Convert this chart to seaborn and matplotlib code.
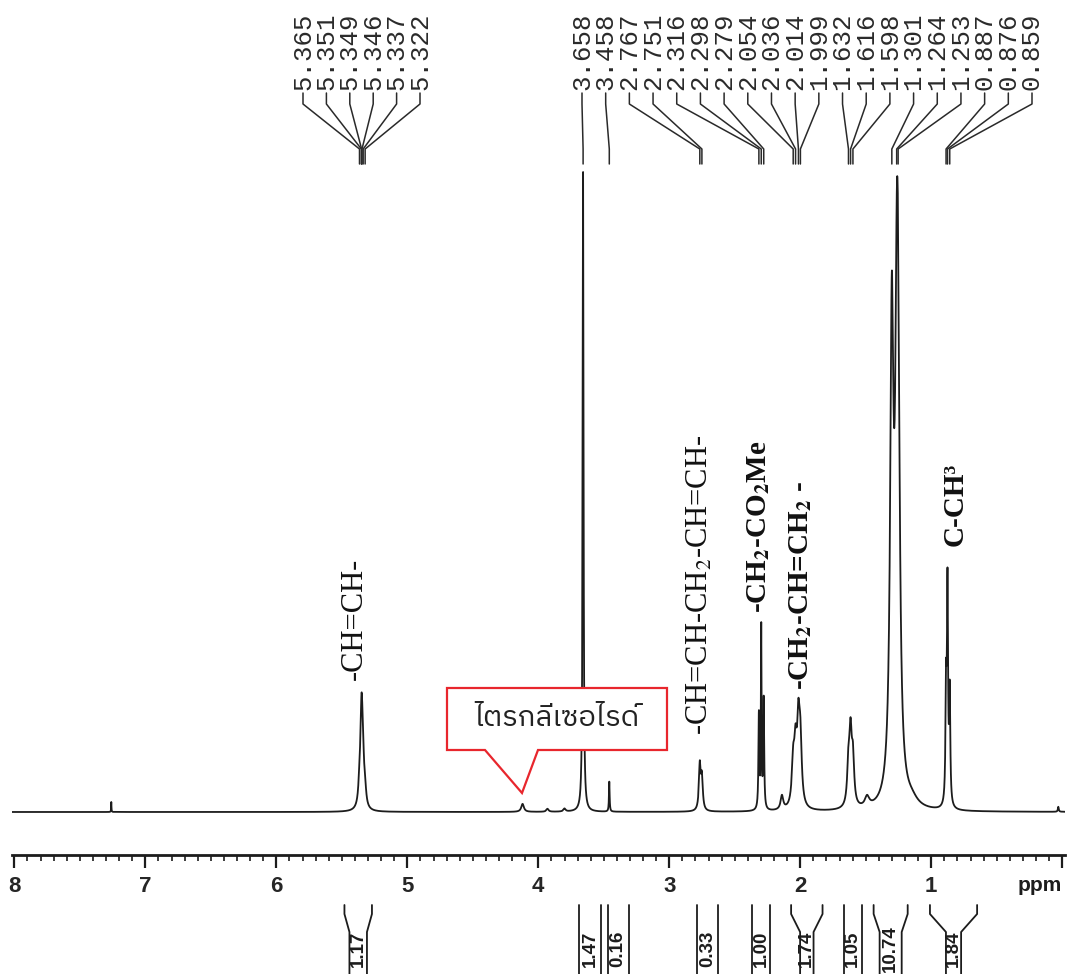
import numpy as np
import pandas as pd
import matplotlib
matplotlib.use("Agg")
import matplotlib.pyplot as plt
import seaborn as sns
from matplotlib.ticker import FixedLocator, MultipleLocator, FixedFormatter
from matplotlib.patches import Polygon
from matplotlib import font_manager as fm

# ---------------- data ----------------
# labelled peaks (ppm), heights (baseline = 0, arbitrary units), half widths (ppm)
peak_ppm = [5.365, 5.351, 5.349, 5.346, 5.337, 5.322,
            3.658, 3.458,
            2.767, 2.751,
            2.316, 2.298, 2.279,
            2.054, 2.036, 2.014, 1.999,
            1.632, 1.616, 1.598,
            1.301, 1.264, 1.253,
            0.887, 0.876, 0.859]
peak_height = [19, 39, 36, 30, 28, 13,
               640, 30,
               45, 32,
               95, 180, 110,
               42, 52, 75, 58,
               40, 67, 45,
               463, 330, 330,
               110, 215, 110]
peak_hwhm = [0.010, 0.010, 0.010, 0.010, 0.010, 0.010,
             0.004, 0.003,
             0.008, 0.008,
             0.004, 0.003, 0.004,
             0.012, 0.012, 0.012, 0.012,
             0.011, 0.011, 0.011,
             0.015, 0.015, 0.015,
             0.005, 0.005, 0.005]

# small unlabelled signals (CHCl3, triglyceride, etc.)
minor_ppm = [7.26, 4.12, 3.93, 3.80, 2.14, 1.49, 1.15, 0.03]
minor_height = [10, 8, 3, 3, 14, 10, 7, 5]
minor_hwhm = [0.0015, 0.012, 0.010, 0.010, 0.012, 0.020, 0.055, 0.004]

# peak-pick labels (two fans)
pick_group_a = [5.365, 5.351, 5.349, 5.346, 5.337, 5.322]
pick_group_b = [3.658, 3.458, 2.767, 2.751, 2.316, 2.298, 2.279, 2.054, 2.036,
                2.014, 1.999, 1.632, 1.616, 1.598, 1.301, 1.264, 1.253,
                0.887, 0.876, 0.859]

# integrals
integral_from = [5.48, 3.69, 3.47, 2.79, 2.37, 2.07, 1.67, 1.44, 1.01]
integral_to = [5.27, 3.52, 3.31, 2.63, 2.23, 1.83, 1.53, 1.18, 0.65]
integral_values = ["1.17", "1.47", "0.16", "0.33", "1.00", "1.74", "1.05", "10.74", "1.84"]

tick_ppm = [8, 7, 6, 5, 4, 3, 2, 1, 0]
tick_labels = ["8", "7", "6", "5", "4", "3", "2", "1", ""]

callout_text = "ไตรกลีเซอไรด์"

# ---------------- styles / layout ----------------
W, H = 1069, 974
AX_L, AX_R, AX_BOTTOM = 12, 1065, 855        # pixels
integral_inset_px = [5, 0, 0, 0, 0, 9, 0, 6, 16]
group_a_px = (303, 420)
group_b_px = (582, 1032)


def find_family(text, prefer=("Thai", "Looped")):
    try:
        from fontTools.ttLib import TTFont
    except Exception:
        return None
    need = {ord(c) for c in text}
    entries = sorted(fm.fontManager.ttflist,
                     key=lambda e: (0 if any(p in e.name for p in prefer) else 1, e.name))
    seen = set()
    for e in entries:
        if e.fname in seen:
            continue
        seen.add(e.fname)
        try:
            tt = TTFont(e.fname, fontNumber=0, lazy=True)
            cmap = tt.getBestCmap() or {}
        except Exception:
            continue
        if need <= set(cmap.keys()):
            return e.name
    return None


sns.set_theme(style="white")
plt.rcParams["font.family"] = ["Liberation Sans", "DejaVu Sans"]
plt.rcParams["mathtext.fontset"] = "stix"

fig = plt.figure(figsize=(W / 100, H / 100), dpi=100)
fig.patch.set_facecolor("white")
ax = fig.add_axes([AX_L / W, (H - AX_BOTTOM) / H, (AX_R - AX_L) / W, AX_BOTTOM / H])
ax.set_facecolor("white")


def fx(px):
    return (px - AX_L) / (AX_R - AX_L)


def fy(py):
    return 1 - py / AX_BOTTOM


# ---------------- spectrum ----------------
grid = np.linspace(-0.03, 8.03, 40001)
intensity = np.zeros_like(grid)
for c, h, w in zip(peak_ppm + minor_ppm, peak_height + minor_height, peak_hwhm + minor_hwhm):
    intensity += h / (1 + ((grid - c) / w) ** 2)
df = pd.DataFrame({"ppm": grid, "intensity": intensity})
sns.lineplot(data=df, x="ppm", y="intensity", ax=ax, color="#1c1c1c",
             linewidth=1.3, estimator=None, sort=False, zorder=2)

ax.set_xlim(8.018, -0.021)
ax.set_ylim(-43, 812)
ax.set_xlabel("")
ax.set_ylabel("")
for s in ["top", "left", "right"]:
    ax.spines[s].set_visible(False)
ax.spines["bottom"].set_linewidth(2.0)
ax.spines["bottom"].set_color("#1c1c1c")
ax.xaxis.set_major_locator(FixedLocator(tick_ppm))
ax.xaxis.set_major_formatter(FixedFormatter(tick_labels))
ax.xaxis.set_minor_locator(MultipleLocator(0.1))
ax.tick_params(axis="x", which="major", direction="out", length=9, width=1.6,
               color="#1c1c1c", labelsize=16, pad=6, bottom=True)
ax.tick_params(axis="x", which="minor", direction="out", length=4.5, width=1.2,
               color="#1c1c1c", bottom=True)
for t in ax.get_xticklabels():
    t.set_fontweight("bold")
ax.set_yticks([])
ax.text(fx(1040), fy(885), "ppm", transform=ax.transAxes, ha="center", va="center",
        fontsize=15, fontweight="bold", color="#1c1c1c", clip_on=False)


def data_to_axfrac(ppm):
    disp = ax.transData.transform((ppm, 0))
    return ax.transAxes.inverted().transform(disp)[0]


# ---------------- peak-pick fans ----------------
def draw_fan(values, px_range):
    xs = np.linspace(fx(px_range[0]), fx(px_range[1]), len(values))
    for xl, v in zip(xs, values):
        xp = data_to_axfrac(v)
        ax.plot([xl, xl, xp, xp], [fy(93), fy(104), fy(149), fy(164)],
                transform=ax.transAxes, color="#2a2a2a", lw=1.1, clip_on=False)
        ax.text(xl, fy(90), f"{v:.3f}", transform=ax.transAxes, rotation=90,
                ha="center", va="bottom", fontsize=18.5, color="#2a2a2a",
                family=["Liberation Mono", "DejaVu Sans Mono"], clip_on=False)


draw_fan(pick_group_a, group_a_px)
draw_fan(pick_group_b, group_b_px)

# ---------------- integrals ----------------
for a, b, val, inset in zip(integral_from, integral_to, integral_values, integral_inset_px):
    xa, xb = data_to_axfrac(a), data_to_axfrac(b)
    d = inset / (AX_R - AX_L)
    ax.plot([xa, xa, xa + d, xa + d], [fy(905), fy(914), fy(932), fy(975)],
            transform=ax.transAxes, color="#1c1c1c", lw=1.3, clip_on=False)
    ax.plot([xb, xb, xb - d, xb - d], [fy(905), fy(914), fy(932), fy(975)],
            transform=ax.transAxes, color="#1c1c1c", lw=1.3, clip_on=False)
    ax.text((xa + xb) / 2, fy(949), val, transform=ax.transAxes, rotation=90,
            ha="center", va="center", fontsize=13.5, fontweight="bold",
            color="#1c1c1c", clip_on=False)

# ---------------- assignment labels ----------------
serif = ["Liberation Serif", "DejaVu Serif"]
ax.text(fx(354), fy(680), "-CH=CH-", transform=ax.transAxes, rotation=90,
        ha="center", va="bottom", fontsize=22, family=serif, color="#111")
ax.text(fx(700), fy(735), "-CH=CH-CH$_2$-CH=CH-", transform=ax.transAxes, rotation=90,
        ha="center", va="bottom", fontsize=22, family=serif, color="#111")
ax.text(fx(759), fy(613), r"-CH$_\mathbf{2}$-CO$_\mathbf{2}$Me", transform=ax.transAxes,
        rotation=90, ha="center", va="bottom", fontsize=21, family=serif,
        fontweight="bold", color="#111")
ax.text(fx(801), fy(690), r"-CH$_\mathbf{2}$-CH=CH$_\mathbf{2}$ -", transform=ax.transAxes,
        rotation=90, ha="center", va="bottom", fontsize=21, family=serif,
        fontweight="bold", color="#111")
ax.text(fx(955), fy(546), "C-CH³", transform=ax.transAxes, rotation=90,
        ha="center", va="bottom", fontsize=21, family=serif,
        fontweight="bold", color="#111")

# ---------------- callout ----------------
verts = [(447, 688), (667, 688), (667, 750), (538, 750), (522, 793), (485, 750), (447, 750)]
poly = Polygon([(fx(x), fy(y)) for x, y in verts], closed=True, transform=ax.transAxes,
               facecolor="white", edgecolor="#e8262d", lw=1.6, zorder=5)
ax.add_patch(poly)
thai = find_family(callout_text)
fam = [thai, "DejaVu Sans"] if thai else ["DejaVu Sans"]
ax.text(fx(557), fy(719), callout_text, transform=ax.transAxes, ha="center", va="center",
        fontsize=21, family=fam, color="#222", zorder=6)

fig.savefig("out.png", dpi=100, facecolor="white")
